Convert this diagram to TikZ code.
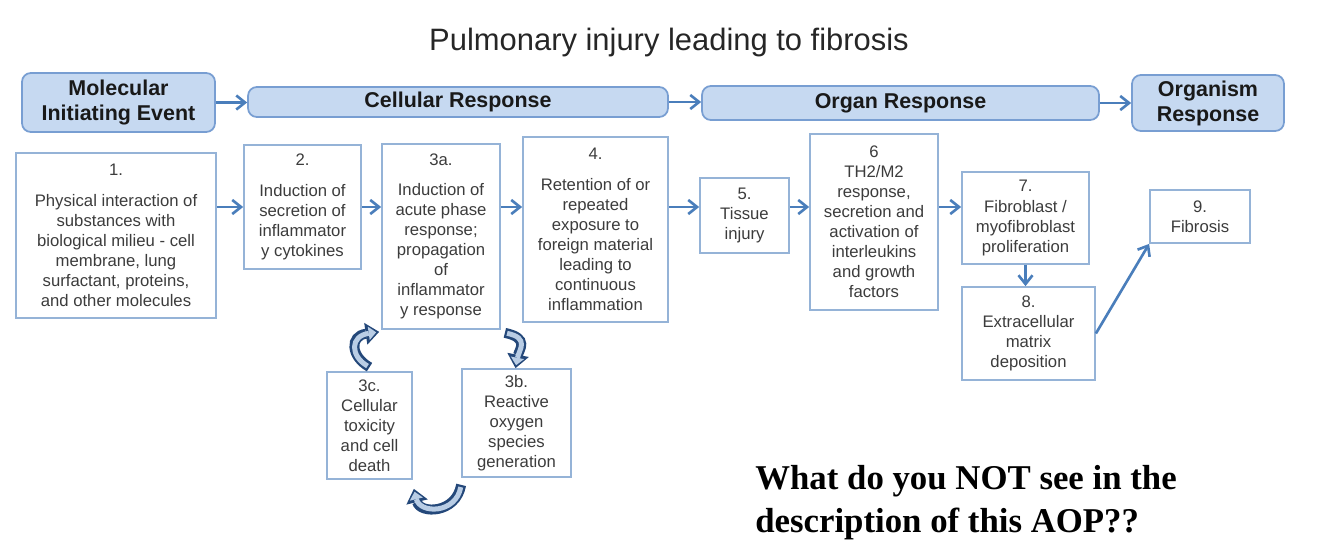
\documentclass[tikz,border=0pt]{standalone}
\usepackage{fontspec}
\setmainfont{Liberation Sans}
\newfontfamily\qserif{Liberation Serif}
\usetikzlibrary{arrows.meta}
\definecolor{hdrfill}{RGB}{198,217,241}
\definecolor{hdrline}{RGB}{120,158,210}
\definecolor{boxline}{RGB}{149,179,215}
\definecolor{flowblue}{RGB}{74,126,187}
\definecolor{ringfill}{RGB}{185,205,229}
\definecolor{ringline}{RGB}{36,72,122}
\definecolor{txtgrey}{RGB}{60,60,60}
\newcommand*{\evfont}{\fontsize{9.5}{11.4}\selectfont}
\newcommand*{\stfont}{\fontsize{12.2}{14.2}\selectfont\bfseries}
\tikzset{>={Straight Barb[length=5pt, width=8pt]}}
\tikzset{
    stage/.style={draw=hdrline, fill=hdrfill, line width=1pt, rounded corners=5pt,
        font=\stfont, text=black!90, align=center, inner sep=0pt},
    event/.style={draw=boxline, line width=1pt, fill=white, font=\evfont,
        text=txtgrey, align=center, inner sep=0pt},
    flow/.style={draw=flowblue, line width=1.5pt, ->},
    loopback/.style={draw=ringfill, line width=0.1cm,
        -{Triangle[length=0.15cm, width=0.27cm, line width=0pt]},
        shorten >=0.06cm, shorten <=0.045cm,
        preaction={draw=ringline, line width=0.2cm,
            -{Triangle[length=0.27cm, width=0.44cm, line width=0pt]},
            shorten >=0pt, shorten <=0pt}}
}

\begin{document}
\begin{tikzpicture}[x=0.02cm, y=-0.02cm]
    \useasboundingbox(0, 0)rectangle(1334, 552);
    \node[font=\fontsize{17.6}{20}\selectfont, text=black!85](title)at(669, 42){Pulmonary injury leading to fibrosis};
    % stages
    \node[stage, minimum width=3.86cm, minimum height=1.18cm](mie)at(118.5, 102.5){Molecular\\Initiating Event};
    \node[stage, minimum width=8.4cm, minimum height=0.6cm](cell)at(458, 102){Cellular Response};
    \node[stage, minimum width=7.94cm, minimum height=0.68cm](organ)at(900.5, 103){Organ Response};
    \node[stage, minimum width=3.04cm, minimum height=1.12cm](organism)at(1208, 103){Organism\\Response};
    \draw[flow](mie.east)--(mie.east-|cell.west);
    \draw[flow](cell.east)--(cell.east-|organ.west);
    \draw[flow](organ.east)--(organ.east-|organism.west);
    % key events
    \node[event, minimum width=4cm, minimum height=3.3cm](ke1)at(116, 235.5){1.\\[6pt]Physical interaction of\\substances with\\biological milieu - cell\\membrane, lung\\surfactant, proteins,\\and other molecules};
    \node[event, minimum width=2.34cm, minimum height=2.48cm](ke2)at(302.5, 207){2.\\[6pt]Induction of\\secretion of\\inflammator\\y cytokines};
    \node[event, minimum width=2.36cm, minimum height=3.7cm](ke3a)at(441, 236.5){3a.\\[6pt]Induction of\\acute phase\\response;\\propagation\\of\\inflammator\\y response};
    \node[event, minimum width=2.9cm, minimum height=3.7cm](ke4)at(595.5, 229.5){4.\\[6pt]Retention of or\\repeated\\exposure to\\foreign material\\leading to\\continuous\\inflammation};
    \node[event, minimum width=1.78cm, minimum height=1.5cm](ke5)at(744.5, 215.5){5.\\Tissue\\injury};
    \node[event, minimum width=2.56cm, minimum height=3.52cm](ke6)at(874, 222){6\\TH2/M2\\response,\\secretion and\\activation of\\interleukins\\and growth\\factors};
    \node[event, minimum width=2.54cm, minimum height=1.84cm](ke7)at(1025.5, 218){7.\\Fibroblast /\\myofibroblast\\proliferation};
    \node[event, minimum width=2.66cm, minimum height=1.86cm](ke8)at(1028.5, 333.5){8.\\Extracellular\\matrix\\deposition};
    \node[event, minimum width=2cm, minimum height=1.06cm](ke9)at(1200, 216.5){9.\\Fibrosis};
    \node[event, minimum width=1.7cm, minimum height=2.14cm](ke3c)at(369.5, 425.5){3c.\\Cellular\\toxicity\\and cell\\death};
    \node[event, minimum width=2.18cm, minimum height=2.16cm](ke3b)at(516.5, 423){3b.\\Reactive\\oxygen\\species\\generation};
    % main chain
    \coordinate(row)at(0, 207);
    \draw[flow](ke1.east|-row)--(ke2.west|-row);
    \draw[flow](ke2.east|-row)--(ke3a.west|-row);
    \draw[flow](ke3a.east|-row)--(ke4.west|-row);
    \draw[flow](ke4.east|-row)--(ke5.west|-row);
    \draw[flow](ke5.east|-row)--(ke6.west|-row);
    \draw[flow](ke6.east|-row)--(ke7.west|-row);
    \draw[flow](ke7.south)--(ke7.south|-ke8.north);
    \draw[flow](ke8.east)--(ke9.south west);
    % 3a - 3b - 3c loop
    \draw[loopback]([shift={(4, 3)}]ke3a.south east).. controls(530, 338)and(519, 350)..([shift={(-1, 0)}]ke3b.north);
    \draw[loopback]([shift={(0, 7)}]ke3b.south west).. controls(456, 514)and(420, 514)..([shift={(1, 9)}]ke3c.south east);
    \draw[loopback]([shift={(0, -4)}]ke3c.north).. controls(350, 356)and(350, 336)..([shift={(-2, 2)}]ke3a.south west);
    \node[font=\qserif\bfseries\fontsize{19.8}{24.5}\selectfont, align=left, anchor=west, inner sep=0pt](ask)at(755, 503){What do you NOT see in the\\description of this AOP??};
\end{tikzpicture}
\end{document}
